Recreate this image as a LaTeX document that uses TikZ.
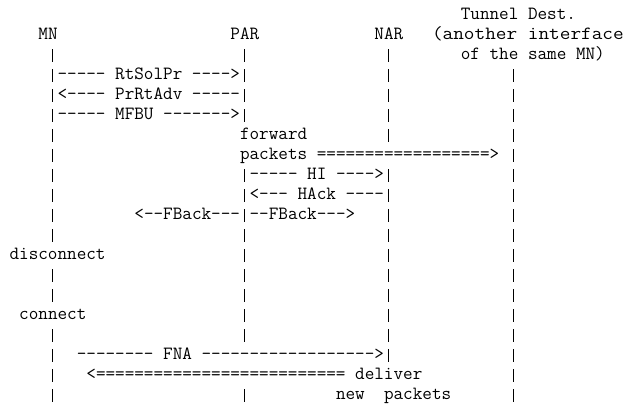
\documentclass[tikz,border=0pt]{standalone}
\usepackage{fontspec}
\usepackage{graphicx}
% character cell of the ASCII chart: 9.6pt wide, 20pt per line
\newlength\cellw
\newcommand\vb{\makebox[9.6pt]{\rule[-2pt]{0.9pt}{12.5pt}}}
\begin{document}
% scale the typewriter font so one character is exactly one cell wide
\settowidth\cellw{\ttfamily\fontsize{18}{20}\selectfont 0}
\pgfmathsetmacro\ascsize{18*9.6/\cellw}
\begin{tikzpicture}[x=1pt,y=-1pt]
  \tikzset{ascii/.style={font=\ttfamily\fontsize{\ascsize}{20}\selectfont,
      anchor=base west, inner sep=0pt, outer sep=0pt}}
  \newcommand\txt[4]{\node[ascii] (#1) at ({9.6*#2},{19.5+20*#3}) {#4};}
  \newcommand\pipes[2]{\foreach \c in {#2}
      {\node[ascii] (bar-\c-#1) at ({9.6*\c},{19.5+20*#1}) {\vb};}}

  \fill[white] (0,0) rectangle (630,405);
  \useasboundingbox (0,0) rectangle (630,405);

  % headers
  \txt{tunnel}{48}{0}{Tunnel Dest.}
  \txt{mn}{4}{1}{MN}
  \txt{par}{24}{1}{PAR}
  \txt{nar}{39}{1}{NAR}
  \txt{another}{45}{1}{\scalebox{1.11}[1]{(another interface}}
  \txt{samemn}{48}{2}{of the same MN)}

  % message lines
  \txt{rtsolpr}{5}{3}{\vb----- RtSolPr ---->\vb}
  \txt{prrtadv}{5}{4}{\vb<---- PrRtAdv -----\vb}
  \txt{mfbu}{5}{5}{\vb----- MFBU ------->\vb}
  \txt{forward}{25}{6}{forward}
  \txt{packets}{25}{7}{packets ==================>}
  \txt{hi}{25}{8}{\vb----- HI ---->\vb}
  \txt{hack}{25}{9}{\vb<--- HAck ----\vb}
  \txt{fback}{14}{10}{<--FBack---\vb--FBack--->}
  \txt{disconnect}{1}{12}{disconnect}
  \txt{connect}{2}{15}{connect}
  \txt{fna}{8}{17}{-------- FNA ------------------>\vb}
  \txt{deliver}{9}{18}{<========================== deliver}
  \txt{new}{35}{19}{new}
  \txt{newpackets}{40}{19}{packets}

  % life lines
  \pipes{2}{5,25,40}
  \pipes{3}{40,53}
  \pipes{4}{40,53}
  \pipes{5}{40,53}
  \pipes{6}{5,40,53}
  \pipes{7}{5,53}
  \pipes{8}{5,53}
  \pipes{9}{5,53}
  \pipes{10}{5,40,53}
  \pipes{11}{5,25,40,53}
  \pipes{12}{25,40,53}
  \pipes{13}{5,25,40,53}
  \pipes{14}{5,25,40,53}
  \pipes{15}{25,40,53}
  \pipes{16}{5,25,40,53}
  \pipes{17}{5,53}
  \pipes{18}{5,53}
  \pipes{19}{5,25,53}
\end{tikzpicture}
\end{document}
